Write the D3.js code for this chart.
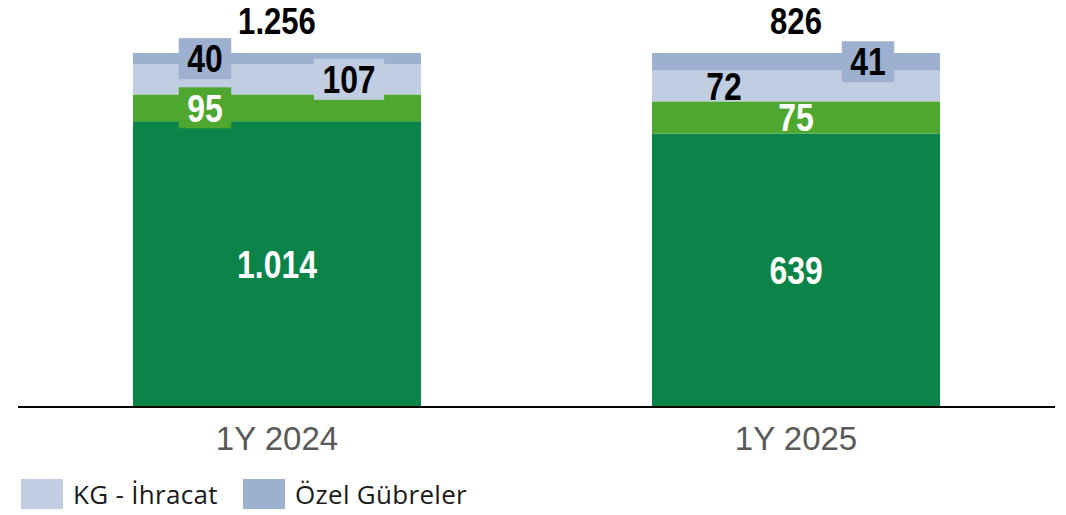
<!DOCTYPE html>
<html>
<head>
<meta charset="utf-8">
<script src="https://cdn.jsdelivr.net/npm/d3@7"></script>
<style>
  html, body { margin: 0; padding: 0; background: #fff; }
  svg { display: block; }
</style>
</head>
<body>
<div id="chart"></div>
<script>
// data
const categories = ['1Y 2024', '1Y 2025'];
const seriesKeys = ['dogal', 'kgYurtici', 'kgIhracat', 'ozel'];
const dogal = [1014, 639];
const kgYurtici = [95, 75];
const kgIhracat = [107, 72];
const ozel = [40, 41];
const totalLabels = ['1.256', '826'];
const legendNames = ['KG - İhracat', 'Özel Gübreler'];
const legendKeys = ['kgIhracat', 'ozel'];

// styling
const colors = { dogal: '#0A8449', kgYurtici: '#4EA72E', kgIhracat: '#C1CDE1', ozel: '#9DB0CF' };
const labelColor = { dogal: '#fff', kgYurtici: '#fff', kgIhracat: '#000', ozel: '#000' };
// horizontal label placement as a fraction of bar width, and whether a box is drawn
const labelPos = {
  dogal: [0.5, 0.5],
  kgYurtici: [0.25, 0.5],
  kgIhracat: [0.75, 0.25],
  ozel: [0.25, 0.75]
};
const labelBox = {
  dogal: [false, false],
  kgYurtici: [true, false],
  kgIhracat: [true, false],
  ozel: [true, true]
};

const width = 1066, height = 515;
const margin = { top: 53, left: 18, right: 11, bottom: 108 };
const baseY = height - margin.bottom;
const squeeze = 0.84; // condensed look for the bold numbers

const rows = categories.map((c, i) => {
  const r = { cat: c, dogal: dogal[i], kgYurtici: kgYurtici[i], kgIhracat: kgIhracat[i], ozel: ozel[i] };
  r.sum = seriesKeys.reduce((s, k) => s + r[k], 0);
  return r;
});
// each bar fills full height (100% stacked)
const pctRows = rows.map(r => {
  const o = { cat: r.cat };
  seriesKeys.forEach(k => o[k] = r[k] / r.sum);
  return o;
});
const stacked = d3.stack().keys(seriesKeys)(pctRows);

const x = d3.scaleBand()
  .domain(categories)
  .range([margin.left, width - margin.right])
  .paddingInner(0.445)
  .paddingOuter(0.2215);

const y = d3.scaleLinear().domain([0, 1]).range([baseY, margin.top]);

const svg = d3.select('#chart').append('svg')
  .attr('width', width)
  .attr('height', height);

const numFont = '"Liberation Sans", Arial, sans-serif';
const fmt = v => d3.format(',')(v).replace(/,/g, '.');

function numLabel(parent, cx, cy, txt, fill, size) {
  const g = parent.append('g')
    .attr('transform', `translate(${cx},${cy}) scale(${squeeze},1)`);
  const t = g.append('text')
    .attr('text-anchor', 'middle')
    .attr('dy', '0.36em')
    .style('font-family', numFont)
    .style('font-weight', 'bold')
    .style('font-size', (size || 38) + 'px')
    .attr('fill', fill)
    .text(txt);
  return t.node().getBBox().width * squeeze;
}

// bars
const layers = svg.append('g').selectAll('g')
  .data(stacked)
  .join('g')
  .attr('fill', d => colors[d.key]);

layers.selectAll('rect')
  .data(d => d)
  .join('rect')
  .attr('x', d => x(d.data.cat))
  .attr('width', x.bandwidth())
  .attr('y', d => y(d[1]))
  .attr('height', d => y(d[0]) - y(d[1]));

// segment labels
const labG = svg.append('g');
stacked.forEach(layer => {
  layer.forEach((d, i) => {
    const key = layer.key;
    const cx = x(d.data.cat) + x.bandwidth() * labelPos[key][i];
    const cy = (y(d[0]) + y(d[1])) / 2;
    const g = labG.append('g');
    const box = g.append('rect');
    const w = numLabel(g, cx, cy, fmt(rows[i][key]), labelColor[key]);
    if (labelBox[key][i]) {
      box.attr('x', cx - w / 2 - 8.5)
        .attr('width', w + 17)
        .attr('y', cy - 20.5)
        .attr('height', 41)
        .attr('fill', colors[key]);
    } else {
      box.remove();
    }
  });
});

// totals
const totG = svg.append('g');
categories.forEach((c, i) => {
  numLabel(totG, x(c) + x.bandwidth() / 2, 21, totalLabels[i], '#000', 37);
});

// x axis
const xAxis = svg.append('g')
  .attr('transform', `translate(0,${baseY})`)
  .call(d3.axisBottom(x).tickSize(0).tickPadding(20));
xAxis.select('.domain').attr('stroke', '#000').attr('stroke-width', 2)
  .attr('d', `M${margin.left},0H${width - margin.right}`);
xAxis.selectAll('text')
  .style('font-family', '"Liberation Sans", Arial, sans-serif')
  .style('font-size', '33px')
  .attr('fill', '#595959');

// legend
const leg = svg.append('g').attr('transform', `translate(21,479)`);
const legOffsets = [0, 222];
legendKeys.forEach((k, i) => {
  const g = leg.append('g').attr('transform', `translate(${legOffsets[i]},0)`);
  g.append('rect').attr('width', 42).attr('height', 30).attr('fill', colors[k]);
  g.append('text')
    .attr('x', 52)
    .attr('y', 25)
    .style('font-family', '"Open Sans", "Liberation Sans", sans-serif')
    .style('font-size', '26px')
    .style('letter-spacing', '0.3px')
    .attr('fill', '#1a1a1a')
    .text(legendNames[i]);
});
</script>
</body>
</html>
